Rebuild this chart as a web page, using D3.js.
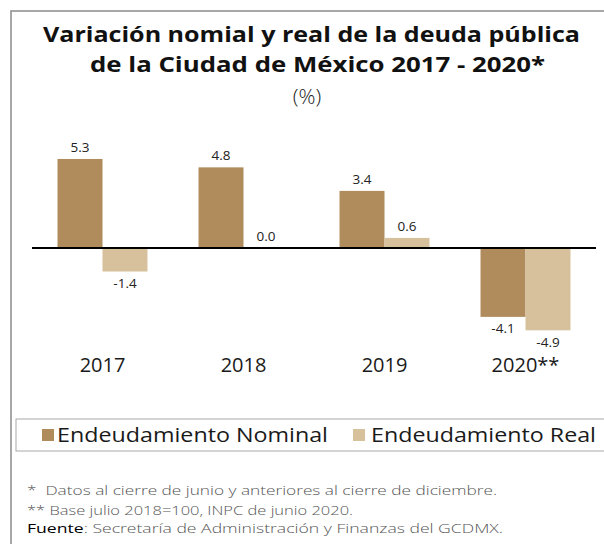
<!DOCTYPE html>
<html><head><meta charset="utf-8">
<script src="https://cdn.jsdelivr.net/npm/d3@7"></script>
<style>
html,body{margin:0;padding:0;background:#fff;}
svg{display:block;font-family:"Open Sans",sans-serif;}
</style></head>
<body><svg id="c" width="604" height="544"></svg>
<script>
const categories = ["2017", "2018", "2019", "2020**"];
const seriesNames = ["Endeudamiento Nominal", "Endeudamiento Real"];
const nominal = [5.3, 4.8, 3.4, -4.1];
const real = [-1.4, 0.0, 0.6, -4.9];
const colors = ["#B08C5C", "#D6C19C"];
const titleLines = ["Variación nomial y real de la deuda pública", "de la Ciudad de México 2017 - 2020*"];
const subtitle = "(%)";
const notes = ["*  Datos al cierre de junio y anteriores al cierre de diciembre.", "** Base julio 2018=100, INPC de junio 2020."];
const sourceLabel = "Fuente";
const sourceText = ": Secretaría de Administración y Finanzas del GCDMX.";

const svg = d3.select("#c");
const W = 604, H = 544;

// outer frame
svg.append("rect").attr("x", 11).attr("y", 11).attr("width", W).attr("height", H)
  .attr("fill", "none").attr("stroke", "#8a8a8a").attr("stroke-width", 1.5);

function fit(sel, w) {
  sel.attr("textLength", w).attr("lengthAdjust", "spacingAndGlyphs");
}

// title
const tl = [[43, 42, 537], [90, 72, 455]];
titleLines.forEach((t, i) => {
  svg.append("text").attr("x", tl[i][0]).attr("y", tl[i][1]).text(t)
    .attr("font-size", 21.5).attr("font-weight", 700).attr("fill", "#111")
    .call(fit, tl[i][2]);
});
svg.append("text").attr("x", 307).attr("y", 104).attr("text-anchor", "middle")
  .attr("font-size", 21).attr("font-weight", 300).attr("fill", "#222").text(subtitle);

// scales
const x0 = d3.scaleBand().domain(categories).range([32, 596]).paddingInner(0.362).paddingOuter(0.181);
const x1 = d3.scaleBand().domain(seriesNames).range([0, x0.bandwidth()]).padding(0);
const y = d3.scaleLinear().domain([-6, 6]).range([248 + 6 * 16.8, 248 - 6 * 16.8]);
const fmt = v => d3.format(".1f")(v).replace("\u2212", "-");

const data = categories.map((c, i) => ({cat: c, vals: [nominal[i], real[i]]}));

const g = svg.append("g");
data.forEach(d => {
  d.vals.forEach((v, j) => {
    const xx = x0(d.cat) + x1(seriesNames[j]);
    g.append("rect").attr("x", xx).attr("width", x1.bandwidth())
      .attr("y", y(Math.max(0, v))).attr("height", Math.abs(y(v) - y(0)))
      .attr("fill", colors[j]);
    g.append("text").attr("x", xx + x1.bandwidth() / 2)
      .attr("y", v >= 0 ? y(v) - 7 : y(v) + 16.5)
      .attr("text-anchor", "middle").attr("font-size", 13.5).attr("fill", "#222")
      .text(fmt(v));
  });
});

// zero line
svg.append("line").attr("x1", 32).attr("x2", 596).attr("y1", y(0)).attr("y2", y(0))
  .attr("stroke", "#000").attr("stroke-width", 2.2);

// category labels
categories.forEach(c => {
  svg.append("text").attr("x", x0(c) + x0.bandwidth() / 2).attr("y", 372)
    .attr("text-anchor", "middle").attr("font-size", 20).attr("fill", "#1a1a1a").text(c);
});

// legend
svg.append("rect").attr("x", 16).attr("y", 419).attr("width", 600).attr("height", 32)
  .attr("fill", "#fff").attr("stroke", "#a8a8a8").attr("stroke-width", 1);
const legPos = [[42, 57, 271], [353, 371, 225]];
seriesNames.forEach((s, i) => {
  svg.append("rect").attr("x", legPos[i][0]).attr("y", 429).attr("width", 12).attr("height", 12)
    .attr("fill", colors[i]);
  svg.append("text").attr("x", legPos[i][1]).attr("y", 442).attr("font-size", 20)
    .attr("fill", "#1a1a1a").text(s).call(fit, legPos[i][2]);
});

// notes
const np = [[27, 495, 470], [27, 515, 326]];
notes.forEach((n, i) => {
  svg.append("text").attr("x", np[i][0]).attr("y", np[i][1]).attr("font-size", 13.5)
    .attr("font-weight", 300).attr("fill", "#555").attr("xml:space", "preserve").text(n)
    .call(fit, np[i][2]);
});
const src = svg.append("text").attr("x", 27).attr("y", 533).attr("font-size", 13.5).call(fit, 476);
src.append("tspan").attr("fill", "#000").attr("font-weight", 400).text(sourceLabel);
src.append("tspan").attr("fill", "#555").attr("font-weight", 300).text(sourceText);
</script></body></html>
